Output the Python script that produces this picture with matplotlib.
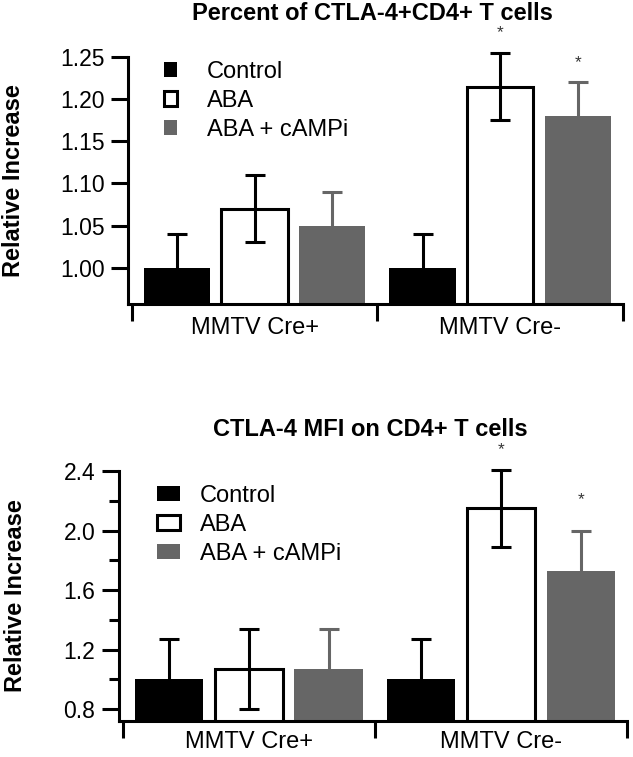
import matplotlib
matplotlib.use("Agg")
import matplotlib.pyplot as plt
import numpy as np

plt.rcParams['font.family'] = ['Liberation Sans', 'DejaVu Sans']

groups = ["MMTV Cre+", "MMTV Cre-"]
series = ["Control", "ABA", "ABA + cAMPi"]

# Panel 1: Percent of CTLA-4+CD4+ T cells
p1_means = {"Control": [1.00, 1.00], "ABA": [1.07, 1.215], "ABA + cAMPi": [1.05, 1.18]}
p1_errs = {"Control": [0.04, 0.04], "ABA": [0.04, 0.04], "ABA + cAMPi": [0.04, 0.04]}
p1_stars = {"Control": [False, False], "ABA": [False, True], "ABA + cAMPi": [False, True]}
p1_yticks = [1.00, 1.05, 1.10, 1.15, 1.20, 1.25]

# Panel 2: CTLA-4 MFI on CD4+ T cells
p2_means = {"Control": [1.00, 1.00], "ABA": [1.07, 2.15], "ABA + cAMPi": [1.07, 1.73]}
p2_errs = {"Control": [0.27, 0.27], "ABA": [0.27, 0.26], "ABA + cAMPi": [0.27, 0.27]}
p2_stars = {"Control": [False, False], "ABA": [False, True], "ABA + cAMPi": [False, True]}
p2_yticks = [0.8, 1.2, 1.6, 2.0, 2.4]
p2_minor = [1.0, 1.4, 1.8, 2.2]

face = {"Control": "#000000", "ABA": "#ffffff", "ABA + cAMPi": "#666666"}
ecol = {"Control": "#000000", "ABA": "#000000", "ABA + cAMPi": "#666666"}

fig = plt.figure(figsize=(6.33, 7.57), dpi=100)
W, H = 633, 757
ax1 = fig.add_axes([128 / W, 1 - 304 / H, (623 - 128) / W, (304 - 57) / H])
ax2 = fig.add_axes([119 / W, 1 - 721 / H, (627 - 119) / W, (721 - 471) / H])

LW = 2.2
offsets = [-0.316, 0.0, 0.316]
bw = 0.27


def draw(ax, means, errs, stars, ylim, yticks, fmt, title, title_y, ylab_x, legend_kw, star_off, xpad):
    x = np.arange(len(groups))
    handles = []
    for i, s in enumerate(series):
        xs = x + offsets[i]
        b = ax.bar(xs, means[s], bw, color=face[s], edgecolor="black" if s == "ABA" else face[s],
                   linewidth=LW if s == "ABA" else 0, zorder=2, label=s)
        handles.append(b)
        eb = ax.errorbar(xs, means[s], yerr=errs[s], fmt="none", ecolor=ecol[s], elinewidth=LW,
                         capsize=7, capthick=LW, zorder=3)
        for art in eb.lines[1] + eb.lines[2]:
            art.set_clip_on(False)
        for j in range(len(groups)):
            if stars[s][j]:
                ax.annotate("*", (xs[j], means[s][j] + errs[s][j]), xytext=(0, star_off[s]),
                            textcoords="offset points", ha="center", va="center", fontsize=12.5,
                            color="#333333", annotation_clip=False)
    ax.set_ylim(*ylim)
    ax.set_xlim(-0.515, 1.5)
    ax.set_yticks(yticks)
    ax.set_yticklabels([fmt.format(v) for v in yticks], fontsize=16.5)
    ax.set_xticks(x)
    ax.set_xticklabels(groups, fontsize=17)
    ax.set_xticks([-0.5, 0.5, 1.5], minor=True)
    ax.tick_params(axis="x", which="major", length=0, pad=xpad)
    ax.tick_params(axis="x", which="minor", length=12, width=LW, direction="out")
    ax.tick_params(axis="y", which="major", length=12, width=LW, direction="out", pad=5)
    ax.tick_params(axis="y", which="minor", length=7, width=LW, direction="out")
    for sp in ["top", "right"]:
        ax.spines[sp].set_visible(False)
    for sp in ["left", "bottom"]:
        ax.spines[sp].set_linewidth(LW)
    ax.spines["left"].set_bounds(ylim[0], yticks[-1])
    pos = ax.get_position()
    fig.text(0.5 * (pos.x0 + pos.x1) - 3 / W, title_y, title, ha="center", va="center",
             fontsize=17, fontweight="bold")
    fig.text(ylab_x, 0.5 * (pos.y0 + pos.y1), "Relative Increase", rotation=90, ha="center",
             va="center", fontsize=17, fontweight="bold")
    ax.legend(handles=handles, labels=series, frameon=False, fontsize=17,
              loc="upper left", bbox_transform=fig.transFigure, borderpad=0,
              borderaxespad=0, **legend_kw)
    return ax


draw(ax1, p1_means, p1_errs, p1_stars, (0.957, 1.25), p1_yticks, "{:.2f}",
     "Percent of CTLA-4+CD4+ T cells", 1 - 14 / H, 14 / W,
     dict(bbox_to_anchor=(164 / W, 1 - 61 / H), handlelength=0.55, handleheight=0.6,
          handletextpad=1.27, labelspacing=0.3),
     {"Control": 14.5, "ABA": 14.5, "ABA + cAMPi": 14}, 9)

ax2.set_yticks(p2_minor, minor=True)
draw(ax2, p2_means, p2_errs, p2_stars, (0.72, 2.4), p2_yticks, "{:.1f}",
     "CTLA-4 MFI on CD4+ T cells", 1 - 430 / H, 16 / W,
     dict(bbox_to_anchor=(157 / W, 1 - 485 / H), handlelength=0.97, handleheight=0.6,
          handletextpad=0.85, labelspacing=0.3),
     {"Control": 14, "ABA": 14, "ABA + cAMPi": 22}, 7.5)

fig.savefig("out.png", dpi=100)
